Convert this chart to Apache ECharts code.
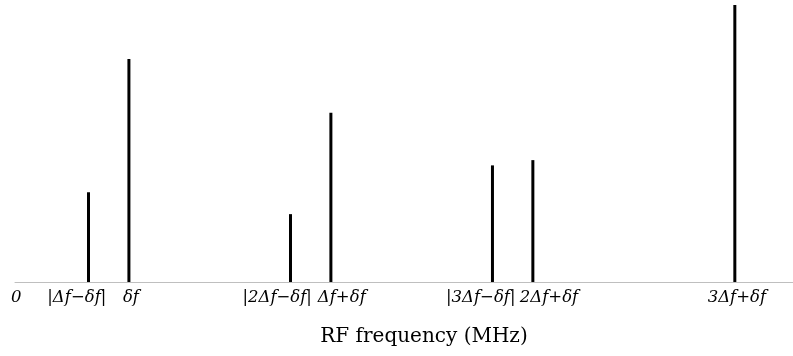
<!DOCTYPE html>
<html>
<head>
<meta charset="utf-8">
<script src="https://cdn.jsdelivr.net/npm/echarts@6/dist/echarts.min.js"></script>
<style>
  html, body { margin: 0; padding: 0; background: #fff; }
  #chart { width: 793px; height: 356px; }
</style>
</head>
<body>
<div id="chart"></div>
<script>
// Spectral lines: position on the frequency axis and relative amplitude
const linePositions = [1.82, 2.82, 6.82, 7.82, 11.82, 12.82, 17.82];
const lineAmplitudes = [32.4, 80.5, 24.5, 61.1, 42.1, 44.0, 100];

// Frequency labels under the axis and where each one sits
const tickPositions = [0.03, 1.53, 2.87, 6.49, 8.09, 11.53, 13.22, 17.87];
const tickLabels = ['0', '|Δf−δf|', 'δf', '|2Δf−δf|', 'Δf+δf', '|3Δf−δf|', '2Δf+δf', '3Δf+δf'];

const axisTitle = 'RF frequency (MHz)';

const labelFor = {};
tickPositions.forEach((p, i) => { labelFor[p] = tickLabels[i]; });

const chart = echarts.init(document.getElementById('chart'));
chart.setOption({
  animation: false,
  grid: { left: 15, right: 0, top: 5, bottom: 74 },
  xAxis: {
    type: 'value',
    min: 0,
    max: 19.26,
    splitLine: { show: false },
    axisLine: { show: true, lineStyle: { color: '#bfbfbf', width: 1 } },
    axisTick: { show: false },
    axisLabel: {
      customValues: tickPositions,
      formatter: v => labelFor[v] ?? '',
      fontFamily: 'DejaVu Serif',
      fontStyle: 'italic',
      fontSize: 16.5,
      color: '#000',
      margin: 7
    }
  },
  yAxis: {
    type: 'value',
    min: 0,
    max: 100,
    show: false
  },
  graphic: [{
    type: 'text',
    x: 424,
    y: 337,
    style: {
      text: axisTitle,
      fontFamily: 'DejaVu Serif',
      fontSize: 20,
      fill: '#000',
      textAlign: 'center',
      textVerticalAlign: 'middle'
    }
  }],
  series: [{
    type: 'bar',
    barWidth: 3,
    itemStyle: { color: '#000' },
    data: linePositions.map((x, i) => [x, lineAmplitudes[i]])
  }]
});
</script>
</body>
</html>
